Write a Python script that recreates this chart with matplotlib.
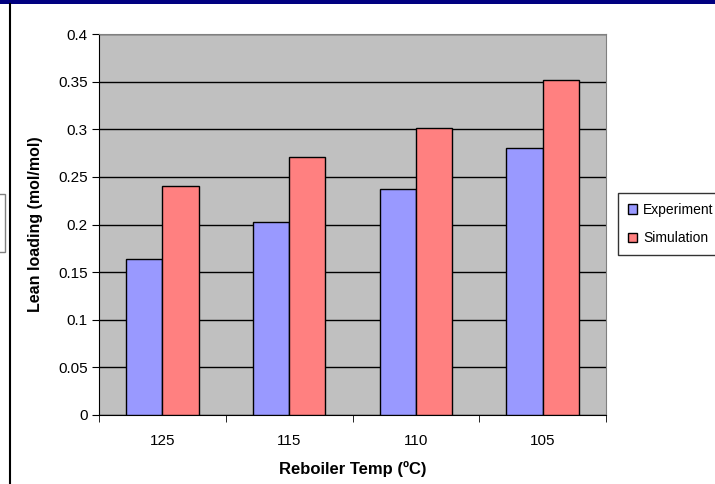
import matplotlib.pyplot as plt
import matplotlib.patches as patches
import numpy as np

plt.rcParams['font.family'] = ['Liberation Sans', 'DejaVu Sans']

temps = ['125', '115', '110', '105']
experiment = [0.164, 0.203, 0.237, 0.280]
simulation = [0.240, 0.271, 0.301, 0.352]
yticks = [0, 0.05, 0.1, 0.15, 0.2, 0.25, 0.3, 0.35, 0.4]

fig = plt.figure(figsize=(7.15, 4.84), dpi=100)
fig.patch.set_facecolor('white')

# navy band at the top and the left frame bits of the surrounding sheet
fig.add_artist(patches.Rectangle((0, 1 - 4 / 484), 1, 4 / 484, transform=fig.transFigure,
                                 facecolor='#000080', edgecolor='none'))
fig.add_artist(plt.Line2D([9.5 / 715, 9.5 / 715], [0, 1 - 4 / 484], transform=fig.transFigure,
                          color='black', lw=1.5))
fig.add_artist(patches.Rectangle((-2 / 715, 1 - 252 / 484), 7 / 715, 58 / 484,
                                 transform=fig.transFigure, facecolor='white',
                                 edgecolor='#808080', lw=1))

ax = fig.add_axes([99 / 715, 1 - 415 / 484, 507 / 715, 381 / 484])
ax.set_facecolor('#C0C0C0')

x = np.arange(len(temps))
w = 1 / 3.5
ax.bar(x - w / 2, experiment, w, color='#9999FF', edgecolor='black', lw=1,
       label='Experiment', zorder=3)
ax.bar(x + w / 2, simulation, w, color='#FF8080', edgecolor='black', lw=1,
       label='Simulation', zorder=3)

ax.set_xlim(-0.5, len(temps) - 0.5)
ax.set_ylim(0, 0.4)
ax.set_yticks(yticks)
ax.set_yticklabels(['0' if v == 0 else ('%g' % v) for v in yticks])
ax.yaxis.grid(True, color='black', lw=1, zorder=1)
ax.set_axisbelow(True)

ax.set_xticks(x)
ax.set_xticklabels(temps)
ax.set_xticks(np.arange(-0.5, len(temps)), minor=True)
ax.tick_params(axis='x', which='major', length=0, pad=14, labelsize=11)
ax.tick_params(axis='x', which='minor', length=5, direction='out', color='black')
ax.tick_params(axis='y', length=5, direction='out', color='black', labelsize=11, pad=3)

for s in ['top', 'right']:
    ax.spines[s].set_color('#808080')
for s in ['left', 'bottom']:
    ax.spines[s].set_color('black')

ax.set_xlabel('Reboiler Temp (ºC)', fontsize=12, fontweight='bold', labelpad=9)
ax.set_ylabel('Lean loading (mol/mol)', fontsize=11.5, fontweight='bold', labelpad=11)

leg = fig.legend(loc='upper left', bbox_to_anchor=(618 / 715, 1 - 193 / 484),
                 fontsize=10, frameon=True, fancybox=False, handlelength=0.7,
                 handleheight=0.7, handletextpad=0.4, borderpad=0.7,
                 labelspacing=1.05, borderaxespad=0)
leg.get_frame().set_edgecolor('black')
leg.get_frame().set_linewidth(1)

fig.savefig('out.png', dpi=100)
